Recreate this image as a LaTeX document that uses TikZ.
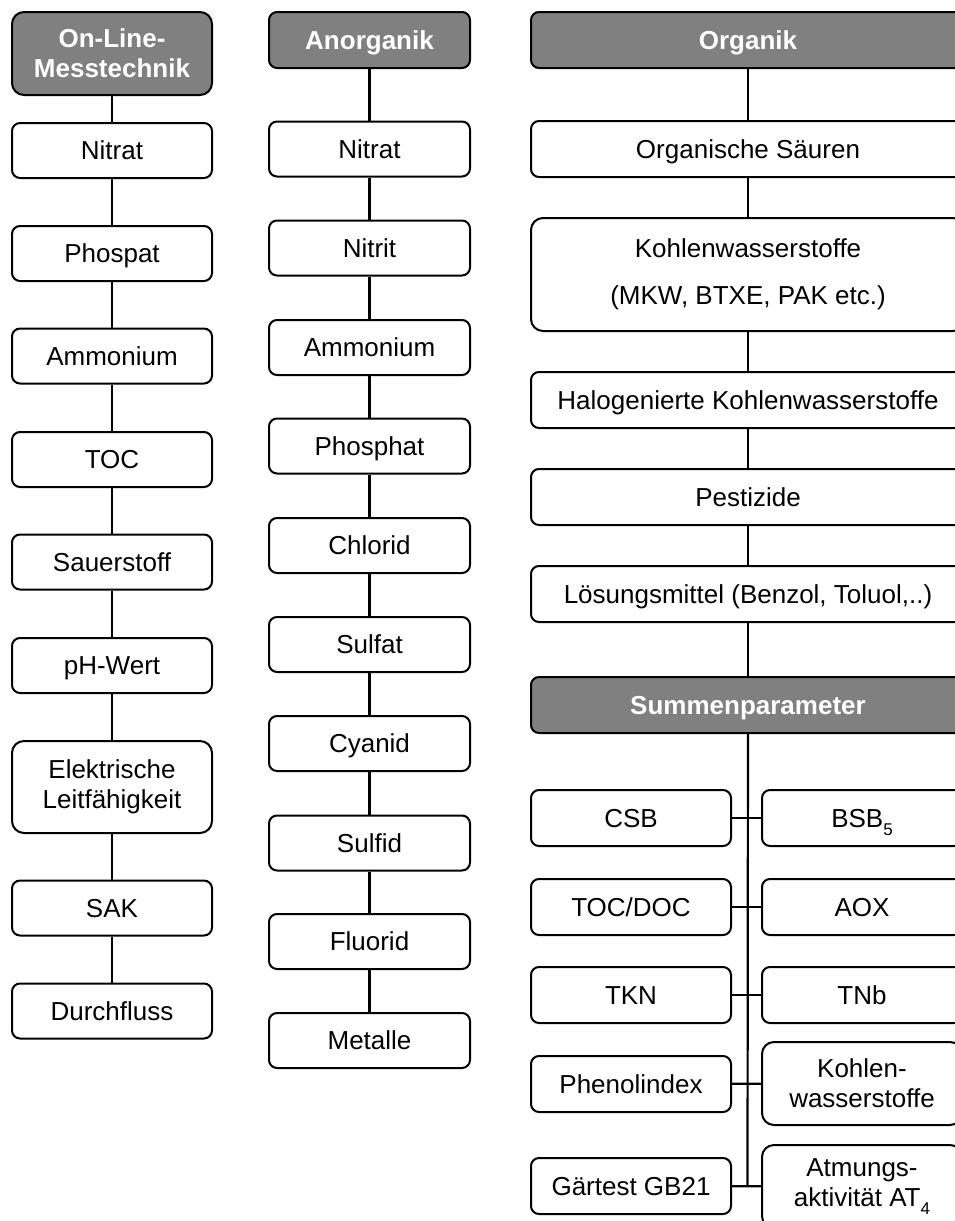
\documentclass[tikz,border=0pt]{standalone}
\usepackage{fontspec}
\setmainfont{Liberation Sans}
\usepackage{xcolor}
\definecolor{headgray}{RGB}{128,128,128}
\newcommand{\lowsub}[1]{\raisebox{-0.3em}{\fontsize{17}{17}\selectfont #1}}

\begin{document}
\begin{tikzpicture}[x=1pt,y=1pt,yscale=-1,
        every node/.style={font=\fontsize{26}{30}\selectfont, align=center, line width=2pt},
        item/.style={draw=black, fill=white, rounded corners=8pt, minimum width=200pt, minimum height=55pt, inner sep=0pt, text height=24pt, text depth=5.4pt},
        tallitem/.style={item, rounded corners=12pt, text height={}, text depth={}},
        head/.style={item, fill=headgray, text=white, font=\fontsize{26}{30}\selectfont\bfseries},
        link/.style={line width=2.2pt}]
        \useasboundingbox (0,0) rectangle (955,1221);
        
        %Column: On-Line-Messtechnik
        \node [head, rounded corners=12pt, minimum height=83pt, text height={}, text depth={}] (onl) at (112,53.5) {On-Line-\\Messtechnik};
        \node [item] (onl1) at (112,150.5) {Nitrat};
        \node [item] (onl2) at (112,253.5) {Phospat};
        \node [item] (onl3) at (112,356) {Ammonium};
        \node [item] (onl4) at (112,459.5) {TOC};
        \node [item] (onl5) at (112,562) {Sauerstoff};
        \node [item] (onl6) at (112,665.5) {pH-Wert};
        \node [tallitem, minimum height=92pt] (onl7) at (112,787) {Elektrische\\Leitfähigkeit};
        \node [item] (onl8) at (112,908) {SAK};
        \node [item] (onl9) at (112,1011) {Durchfluss};
        %Straight Lines
        \draw [link] (onl) -- (onl1);
        \draw [link] (onl1) -- (onl2);
        \draw [link] (onl2) -- (onl3);
        \draw [link] (onl3) -- (onl4);
        \draw [link] (onl4) -- (onl5);
        \draw [link] (onl5) -- (onl6);
        \draw [link] (onl6) -- (onl7);
        \draw [link] (onl7) -- (onl8);
        \draw [link] (onl8) -- (onl9);
        
        %Column: Anorganik
        \node [head, minimum width=201pt, minimum height=56pt] (ano) at (369.5,40) {Anorganik};
        \node [item, minimum width=201pt] (ano1) at (369.5,149) {Nitrat};
        \node [item, minimum width=201pt] (ano2) at (369.5,248) {Nitrit};
        \node [item, minimum width=201pt] (ano3) at (369.5,347.5) {Ammonium};
        \node [item, minimum width=201pt] (ano4) at (369.5,446) {Phosphat};
        \node [item, minimum width=201pt] (ano5) at (369.5,545.5) {Chlorid};
        \node [item, minimum width=201pt] (ano6) at (369.5,644.5) {Sulfat};
        \node [item, minimum width=201pt] (ano7) at (369.5,743.5) {Cyanid};
        \node [item, minimum width=201pt] (ano8) at (369.5,843) {Sulfid};
        \node [item, minimum width=201pt] (ano9) at (369.5,941.5) {Fluorid};
        \node [item, minimum width=201pt] (ano10) at (369.5,1040.5) {Metalle};
        %Straight Lines
        \draw [link] (ano) -- (ano1);
        \draw [link] (ano1) -- (ano2);
        \draw [link] (ano2) -- (ano3);
        \draw [link] (ano3) -- (ano4);
        \draw [link] (ano4) -- (ano5);
        \draw [link] (ano5) -- (ano6);
        \draw [link] (ano6) -- (ano7);
        \draw [link] (ano7) -- (ano8);
        \draw [link] (ano8) -- (ano9);
        \draw [link] (ano9) -- (ano10);
        
        %Column: Organik
        \node [head, minimum width=434pt, minimum height=56pt] (org) at (748,40) {Organik};
        \node [item, minimum width=434pt, minimum height=56pt] (org1) at (748,149) {Organische Säuren};
        \node [tallitem, minimum width=434pt, minimum height=113pt] (org2) at (748,274.5) {Kohlenwasserstoffe\\[17pt](MKW, BTXE, PAK etc.)};
        \node [item, minimum width=434pt, minimum height=56pt] (org3) at (748,400) {Halogenierte Kohlenwasserstoffe};
        \node [item, minimum width=434pt, minimum height=56pt] (org4) at (748,497) {Pestizide};
        \node [item, minimum width=434pt, minimum height=56pt] (org5) at (748,594) {Lösungsmittel (Benzol, Toluol,..)};
        \node [head, minimum width=434pt, minimum height=56pt] (sum) at (748,705) {Summenparameter};
        %Straight Lines
        \draw [link] (org) -- (org1);
        \draw [link] (org1) -- (org2);
        \draw [link] (org2) -- (org3);
        \draw [link] (org3) -- (org4);
        \draw [link] (org4) -- (org5);
        \draw [link] (org5) -- (sum);
        
        %Summenparameter pairs
        \node [item, minimum height=56pt] (sl1) at (631,818) {CSB};
        \node [item, minimum height=56pt] (sr1) at (862,818) {BSB\lowsub{5}};
        \node [item, minimum height=56pt] (sl2) at (631,907) {TOC/DOC};
        \node [item, minimum height=56pt] (sr2) at (862,907) {AOX};
        \node [item, minimum height=56pt] (sl3) at (631,995) {TKN};
        \node [item, minimum height=56pt] (sr3) at (862,995) {TNb};
        \node [item, minimum height=56pt] (sl4) at (631,1084) {Phenolindex};
        \node [tallitem, minimum height=83pt] (sr4) at (862,1083.5) {Kohlen-\\wasserstoffe};
        \node [item, minimum height=56pt] (sl5) at (631,1186) {Gärtest GB21};
        \node [tallitem, minimum height=83pt] (sr5) at (862,1186.5) {Atmungs-\\aktivität AT\lowsub{4}};
        \coordinate (sumend) at (747.5,1186);
        %Straight Lines
        \draw [link] (sum) -- (sumend);
        \draw [link] (sl1) -- (sr1);
        \draw [link] (sl2) -- (sr2);
        \draw [link] (sl3) -- (sr3);
        \draw [link] (sl4) -- (sr4);
        \draw [link] (sl5) -- (sr5);
        
\end{tikzpicture}
\end{document}
